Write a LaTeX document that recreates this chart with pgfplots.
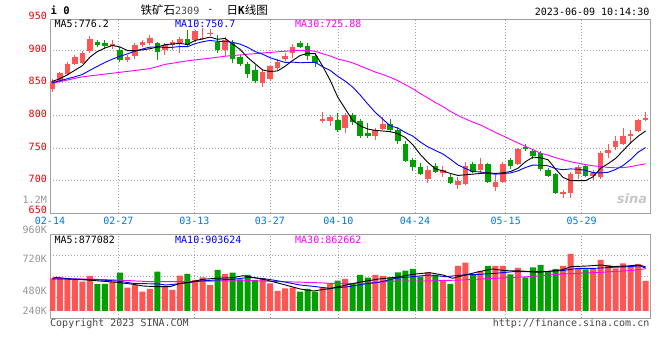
\documentclass[border=0pt]{standalone}
\usepackage{fontspec}
\usepackage{pgfplots}
\usepackage{pgfplotstable}
\pgfplotsset{compat=1.18}
\setmainfont{DejaVu Sans Mono}
\newfontfamily\cjk{Noto Sans CJK SC}
\newfontfamily\dsans{DejaVu Sans}
\definecolor{upred}{RGB}{255,85,85}
\definecolor{dngreen}{RGB}{0,160,0}
\definecolor{tickred}{RGB}{235,0,0}
\definecolor{tickblue}{RGB}{0,120,220}
\definecolor{framegray}{RGB}{160,160,160}
\definecolor{gridgray}{RGB}{165,165,165}
\definecolor{volgray}{RGB}{150,150,150}
\definecolor{mablue}{RGB}{0,0,255}
\definecolor{mamag}{RGB}{255,0,255}
\definecolor{footgray}{RGB}{70,70,70}
\newcommand{\mono}{\fontsize{10}{10}\selectfont}

% rising days (red): index, open, high, low, close, volume (K)
\pgfplotstableread{
i o h l c v
0 841 855 836 852 670
1 853 867 851 865 683
2 864 882 862 879 670
3 879 893 877 889 636
4 880 898 878 895 601
5 898 921 896 917 718
8 906 916 901 909 601
10 884 893 881 889 478
11 891 911 886 907 533
12 907 915 905 912 396
13 910 923 908 918 451
15 900 911 893 907 513
16 908 916 900 912 431
17 910 920 896 917 724
19 915 931 913 929 636
20 917 934 915 919 690
21 924 932 921 926 533
23 900 920 891 915 759
28 850 871 844 867 670
29 856 877 852 875 567
30 872 886 868 882 410
31 887 896 883 891 465
32 895 909 888 905 478
36 791 805 788 795 478
37 791 801 783 797 567
39 780 803 773 801 656
43 769 781 762 777 738
44 779 797 777 786 718
50 703 722 696 717 793
52 712 723 706 716 636
54 693 705 687 699 923
55 695 728 693 722 991
57 716 735 710 725 820
59 690 708 684 698 923
60 698 729 697 726 923
62 726 750 724 748 882
68 679 686 673 682 923
69 681 714 673 710 1169
70 710 724 702 721 875
72 707 717 699 712 875
73 705 746 703 743 1046
74 742 756 735 747 943
75 751 768 747 761 875
76 756 780 754 769 977
77 769 778 756 772 923
78 776 795 774 793 964
79 793 805 791 796 615
}\upTab

% falling days (green)
\pgfplotstableread{
i o h l c v
6 912 916 905 908 554
7 910 916 901 906 554
9 900 905 882 884 786
14 910 912 884 897 806
18 917 931 905 908 759
22 912 923 896 900 841
24 911 915 880 886 786
25 890 893 875 878 649
26 879 882 857 864 738
27 870 877 850 852 636
33 911 914 903 905 396
34 906 911 885 891 451
35 891 895 874 880 396
38 793 804 775 777 622
40 801 804 785 790 567
41 792 795 765 769 738
42 773 789 765 769 683
45 786 794 774 778 690
46 777 782 756 761 793
47 756 761 728 730 827
48 731 735 715 721 861
49 721 727 708 710 704
51 722 727 711 713 738
53 705 710 695 697 554
56 725 729 711 714 738
58 725 727 697 698 923
61 731 735 718 723 752
63 752 756 746 748 690
64 745 749 733 737 895
65 742 746 715 718 943
66 716 720 705 707 806
67 710 712 679 681 861
71 722 724 705 707 854
}\dnTab

\begin{document}
\begin{tikzpicture}[x=1pt,y=1pt]
\useasboundingbox (0,0) rectangle (660,-360);
\pgfplotsset{
  kbase/.style={scale only axis, width=600pt, xmin=-0.306, xmax=79.58,
    axis line style={framegray, line width=1pt},
    tick style={draw=none},
    grid=major,
    major grid style={gridgray, line width=0.8pt, dash pattern=on 1pt off 2pt},
    xtick={-0.306,8.79,18.91,28.98,38.08,48.29,60.37,70.48},
  },
  wick/.style={draw=none, mark=none, forget plot,
    error bars/.cd, y dir=minus, y explicit, error mark=none,
    error bar style={draw=#1, line width=1pt}},
  body/.style={draw=none, mark=none, forget plot,
    error bars/.cd, y dir=minus, y explicit, error mark=none,
    error bar style={draw=#1, line width=5.6pt}},
}
% ---------------- price panel ----------------
\begin{axis}[kbase, at={(50pt,-19pt)}, anchor=north west, height=194.3pt,
  ymin=650, ymax=947.5,
  ytick={650,700,750,800,850,900},
  yticklabels={,700,750,800,850,900},
  xticklabels={02-14,02-27,03-13,03-27,04-10,04-24,05-15,05-29},
  yticklabel style={font=\mono, text=tickred, inner sep=0pt, xshift=-3pt, yshift=1.5pt},
  xticklabel style={font=\mono, text=tickblue, inner sep=0pt, yshift=-3.5pt},
]
\addplot[wick=upred] table[x=i, y=h, y error expr=\thisrow{h}-\thisrow{l}]{\upTab};
\addplot[wick=dngreen] table[x=i, y=h, y error expr=\thisrow{h}-\thisrow{l}]{\dnTab};
\addplot[body=upred] table[x=i, y=c, y error expr=\thisrow{c}-\thisrow{o}]{\upTab};
\addplot[body=dngreen] table[x=i, y=o, y error expr=\thisrow{o}-\thisrow{c}]{\dnTab};
% MA30
\addplot[mamag, line width=0.9pt, mark=none] coordinates {
(0,849) (4,859) (8,864.5) (13,871.5) (15,878) (18,883.5) (21,887.5) (23,890.5) (26,893.5) (28,895.5)
(29,896.3) (30,897.3) (31,898.2) (32,899) (33,899.6) (34,899.4) (35,898.2) (36,894.4) (37,890.8) (38,886.4)
(39,883.6) (40,880.3) (41,875.7) (42,871) (43,866.3) (44,862.5) (45,858.2) (46,853.2) (47,847) (48,840.7)
(49,833.4) (50,826.7) (51,819.6) (52,813.5) (53,806.2) (54,799.8) (55,794.6) (56,789.6) (57,785.3) (58,779.7)
(59,773.8) (60,768.6) (61,763) (62,757.8) (63,752.5) (64,747.4) (65,742) (66,739.1) (67,735.2) (68,732)
(69,729) (70,726.7) (71,724.6) (72,722.7) (73,721.6) (74,720.3) (75,719.7) (76,720) (77,721.4) (78,723.8) (79,725.88)};
% MA10
\addplot[mablue, line width=0.9pt, mark=none] coordinates {
(0,850) (1,853) (2,856) (3,859) (4,862.5) (5,869) (6,875) (7,881) (8,886) (9,890.4)
(10,894.1) (11,898.3) (12,901.6) (13,904.5) (14,904.8) (15,903.8) (16,904.2) (17,905.3) (18,905.2) (19,909.7)
(20,912.7) (21,914.6) (22,913.4) (23,913.1) (24,911.9) (25,909) (26,904.2) (27,897.7) (28,893.6) (29,888.2)
(30,884.5) (31,881) (32,881.5) (33,880.5) (34,881) (35,881.2) (36,874.3) (37,868.8) (38,859.8) (39,852.4)
(40,843.2) (41,831) (42,817.4) (43,804.6) (44,794.1) (45,783.9) (46,780.5) (47,773.8) (48,768.2) (49,759.1)
(50,751.8) (51,746.2) (52,740.9) (53,732.9) (54,724.2) (55,718.6) (56,713.9) (57,713.4) (58,711.1) (59,709.9)
(60,710.8) (61,711.8) (62,715) (63,720.1) (64,723.9) (65,723.5) (66,722.8) (67,718.4) (68,716.8) (69,718)
(70,717.5) (71,715.9) (72,712.3) (73,711.8) (74,712.8) (75,717.1) (76,723.3) (77,732.4) (78,743.5) (79,750.7)};
% MA5
\addplot[black, line width=0.9pt, mark=none] coordinates {
(0,852) (1,856) (2,862) (3,869) (4,876) (5,889) (6,897.6) (7,903) (8,907) (9,904.8)
(10,899.2) (11,899) (12,900.2) (13,902) (14,904.6) (15,908.2) (16,909.2) (17,910.2) (18,908.4) (19,914.6)
(20,917) (21,919.8) (22,916.4) (23,917.8) (24,909.2) (25,901) (26,888.6) (27,879) (28,869.4) (29,867.2)
(30,868) (31,875.2) (32,884) (33,891.6) (34,894.8) (35,894.4) (36,875.2) (37,853.6) (38,828) (39,810)
(40,792) (41,784) (42,779) (43,777) (44,776) (45,775) (46,772) (47,766) (48,755) (49,740)
(50,728) (51,718) (52,715) (53,711) (54,708) (55,709) (56,710) (57,711) (58,712) (59,711)
(60,712) (61,714) (62,719) (63,729) (64,736) (65,735) (66,732) (67,718) (68,705) (69,700)
(70,700) (71,700) (72,706) (73,719) (74,726) (75,734) (76,746) (77,758) (78,768) (79,776.2)};
\end{axis}
% ---------------- volume panel ----------------
\begin{axis}[kbase, at={(50pt,-234.3pt)}, anchor=north west, height=84pt,
  ymin=-150, ymax=1572,
  ytick={281,711,1142}, yticklabels={}, xticklabels={},
]
\addplot[ybar, bar width=6pt, bar shift=0pt, fill=upred, draw=none, forget plot] table[x=i, y=v]{\upTab};
\addplot[ybar, bar width=6pt, bar shift=0pt, fill=dngreen, draw=none, forget plot] table[x=i, y=v]{\dnTab};
% volume MA30
\addplot[mamag, line width=0.9pt, mark=none] coordinates {
(0,670) (4.1,656) (8.5,636) (13,601) (17.4,601) (21.8,615) (26.3,622) (30.7,601) (35.1,581) (37,567)
(41.3,567) (45.7,615) (50.2,615) (54.6,636) (59,670) (63.4,704) (67.8,758) (72.3,786) (76.7,827) (79,863)};
% volume MA10
\addplot[mablue, line width=0.9pt, mark=none] coordinates {
(0,670) (0.5,690) (2.5,656) (6.3,636) (8.6,615) (10.8,567) (14,554) (15.2,533) (17.4,567) (19.6,615)
(21.8,636) (24,649) (26.3,690) (28.5,656) (30.7,601) (33,533) (35.1,499) (36.9,465) (39.1,492) (41.3,547)
(43.5,588) (45.7,670) (48,704) (50.2,738) (52.4,704) (54.6,738) (56.8,752) (59,772) (61.3,806) (63.4,806)
(65.6,806) (67.8,827) (70,875) (72.3,875) (74.5,895) (76.7,909) (78.5,929) (79,904)};
% volume MA5
\addplot[black, line width=0.9pt, mark=none] coordinates {
(0,656) (2,656) (4.6,636) (6.3,615) (8.6,588) (10.8,547) (12.1,512) (13.9,499) (15.7,499) (17,567)
(18.3,588) (20,649) (21.8,670) (24,683) (25.4,724) (26.7,690) (28.5,636) (30.7,547) (33,451) (34.8,410)
(36,440) (37,458) (39.1,533) (41.3,601) (43.5,656) (45.7,690) (48,752) (50.2,786) (52,738) (53.3,670)
(54.6,724) (56.8,806) (58.6,861) (60.3,827) (62.5,820) (64.7,793) (67.8,841) (69.1,909) (71.3,923) (73.1,943)
(74.4,909) (76.6,923) (78,943) (79,877)};
\end{axis}
% ---------------- texts ----------------
\node[anchor=west, inner sep=0pt, font=\bfseries\fontsize{10.5}{10.5}\selectfont] at (50.5,-10.5) {i 0};
\node[anchor=west, inner sep=0pt] at (140.5,-10.5) {\cjk\fontsize{11.5}{11.5}\selectfont 铁矿石{\rmfamily\mono\color{footgray}2309}};
\node[inner sep=0pt, font=\mono] at (210.5,-10.5) {-};
\node[anchor=west, inner sep=0pt] at (226.5,-10.5) {\cjk\fontsize{11.5}{11.5}\selectfont 日{\rmfamily\bfseries\fontsize{11}{11}\selectfont K}线图};
\node[anchor=east, inner sep=0pt, font=\mono] at (649.5,-11.5) {2023-06-09 10:14:30};
\node[anchor=west, inner sep=0pt, font=\mono] at (54.5,-23.5) {MA5:776.2};
\node[anchor=west, inner sep=0pt, font=\mono, text=mablue] at (175,-23.5) {MA10:750.7};
\node[anchor=west, inner sep=0pt, font=\mono, text=mamag] at (295,-23.5) {MA30:725.88};
\node[anchor=east, inner sep=0pt, font=\mono, text=tickred] at (47,-15.5) {950};
\node[anchor=east, inner sep=0pt, font=\mono, text=tickred] at (47,-209.5) {650};
\node[anchor=east, inner sep=0pt, font=\mono, text=volgray] at (47,-200) {1.2M};
\node[anchor=east, inner sep=0pt, font=\mono, text=volgray] at (47,-230) {960K};
\node[anchor=east, inner sep=0pt, font=\mono, text=volgray] at (47,-259.3) {720K};
\node[anchor=east, inner sep=0pt, font=\mono, text=volgray] at (47,-291) {480K};
\node[anchor=east, inner sep=0pt, font=\mono, text=volgray] at (47,-311) {240K};
\node[anchor=west, inner sep=0pt, font=\mono] at (54.5,-239.5) {MA5:877082};
\node[anchor=west, inner sep=0pt, font=\mono, text=mablue] at (175,-239.5) {MA10:903624};
\node[anchor=west, inner sep=0pt, font=\mono, text=mamag] at (295,-239.5) {MA30:862662};
\node[anchor=west, inner sep=0pt, font=\mono, text=footgray] at (50,-324) {Copyright 2023 SINA.COM};
\node[anchor=east, inner sep=0pt, font=\mono, text=footgray] at (649.5,-324) {http://finance.sina.com.cn};
\node[inner sep=0pt, text=black!22, font=\dsans\bfseries\itshape\fontsize{13}{13}\selectfont] at (632,-199) {sina};
\end{tikzpicture}
\end{document}
